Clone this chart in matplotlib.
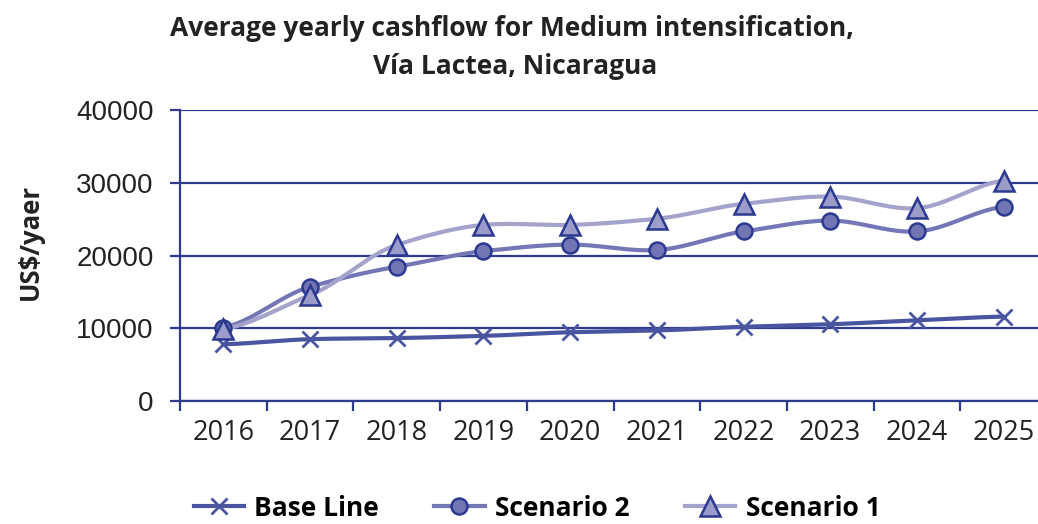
import numpy as np
import matplotlib
matplotlib.use("Agg")
import matplotlib.pyplot as plt
from matplotlib.lines import Line2D

years = ["2016", "2017", "2018", "2019", "2020", "2021", "2022", "2023", "2024", "2025"]
base_line = [7800, 8500, 8650, 8950, 9450, 9700, 10200, 10550, 11100, 11600]
scenario2 = [10100, 15700, 18450, 20600, 21500, 20750, 23300, 24800, 23300, 26700]
scenario1 = [9900, 14550, 21450, 24200, 24200, 25050, 27100, 28100, 26500, 30300]
y_ticks = [0, 10000, 20000, 30000, 40000]

EDGE = "#2B3990"
GRID = "#2E3A8E"
C_BASE = "#4A55A2"
C_S2 = "#7377B5"
C_S2F = "#7175B3"
C_S1 = "#A3A3CC"
C_S1F = "#9B9CCA"


def smooth(xs, ys, n=30):
    # Catmull-Rom style smoothing of the line through the data points
    xs = np.asarray(xs, float)
    ys = np.asarray(ys, float)
    px = np.concatenate([[2 * xs[0] - xs[1]], xs, [2 * xs[-1] - xs[-2]]])
    py = np.concatenate([[ys[0]], ys, [ys[-1]]])
    ox, oy = [], []
    t = np.linspace(0, 1, n, endpoint=False)
    for i in range(1, len(px) - 2):
        p0, p1, p2, p3 = py[i - 1], py[i], py[i + 1], py[i + 2]
        x1, x2 = px[i], px[i + 1]
        m1 = (p2 - p0) / 2 * 0.8
        m2 = (p3 - p1) / 2 * 0.8
        h00 = 2 * t**3 - 3 * t**2 + 1
        h10 = t**3 - 2 * t**2 + t
        h01 = -2 * t**3 + 3 * t**2
        h11 = t**3 - t**2
        oy.extend(h00 * p1 + h10 * m1 + h01 * p2 + h11 * m2)
        ox.extend(x1 + (x2 - x1) * t)
    ox.append(xs[-1])
    oy.append(ys[-1])
    return np.array(ox), np.array(oy)


fig = plt.figure(figsize=(10.38, 5.24), dpi=100)
ax = fig.add_axes([180 / 1038, 1 - 401 / 524, (1047 - 180) / 1038, (401 - 110) / 524])

x = np.arange(len(years))

for vals, col in [(base_line, C_BASE), (scenario2, C_S2), (scenario1, C_S1)]:
    sx, sy = smooth(x, vals)
    ax.plot(sx, sy, color=col, lw=3.0, solid_capstyle="round", zorder=3)

ax.plot(x, base_line, ls="none", marker="x", ms=12, mew=2.0, color=C_BASE, zorder=4)
ax.plot(x, scenario2, ls="none", marker="o", ms=11.5, mfc=C_S2F, mec=EDGE, mew=1.8, zorder=4)
ax.plot(x, scenario1, ls="none", marker="^", ms=14.5, mfc=C_S1F, mec=EDGE, mew=1.8, zorder=5)

ax.set_xlim(-0.5, 9.5)
ax.set_ylim(0, 40000)
ax.set_yticks(y_ticks)
ax.set_yticklabels([str(v) for v in y_ticks], fontfamily="Liberation Sans", fontsize=20, color="#222222")
ax.set_xticks(np.arange(-0.5, 10, 1), minor=False)
ax.set_xticklabels([])
ax.set_xticks(x, minor=True)
ax.set_xticklabels(years, minor=True, fontfamily="Open Sans", fontsize=19.5, color="#222222")
ax.tick_params(axis="x", which="major", direction="out", length=7, width=1.6, color=GRID)
ax.tick_params(axis="x", which="minor", length=0, pad=13)
ax.tick_params(axis="y", direction="out", length=7, width=1.6, color=GRID, pad=12)

ax.grid(axis="y", color=GRID, lw=1.6, zorder=1)
ax.set_axisbelow(True)
for s in ["top", "right"]:
    ax.spines[s].set_visible(False)
for s in ["left", "bottom"]:
    ax.spines[s].set_color(GRID)
    ax.spines[s].set_linewidth(1.6)

fig.text(512 / 1038, 1 - 28 / 524, "Average yearly cashflow for Medium intensification,", ha="center", va="center",
         fontfamily="Open Sans", fontweight="bold", fontsize=19, color="#222222")
fig.text(515 / 1038, 1 - 67 / 524, "Vía Lactea, Nicaragua", ha="center", va="center",
         fontfamily="Open Sans", fontweight="bold", fontsize=19, color="#222222")
fig.text(30 / 1038, 1 - 242 / 524, "US$/yaer", rotation=90, ha="center", va="center",
         fontfamily="Open Sans", fontweight="bold", fontsize=18.5, color="#222222")

handles = [
    Line2D([], [], color=C_BASE, lw=3, marker="x", ms=12, mew=2.0, mec=C_BASE),
    Line2D([], [], color=C_S2, lw=3, marker="o", ms=11.5, mfc=C_S2F, mec=EDGE, mew=1.8),
    Line2D([], [], color=C_S1, lw=3, marker="^", ms=14.5, mfc=C_S1F, mec=EDGE, mew=1.8),
]
fig.legend(handles, ["Base Line", "Scenario 2", "Scenario 1"], loc="center", bbox_to_anchor=(537 / 1038, 1 - 508 / 524),
           ncol=3, frameon=False, handlelength=1.9, handletextpad=0.4, columnspacing=2.1,
           prop={"family": "Open Sans", "weight": "bold", "size": 19})

fig.savefig("out.png", dpi=100)
